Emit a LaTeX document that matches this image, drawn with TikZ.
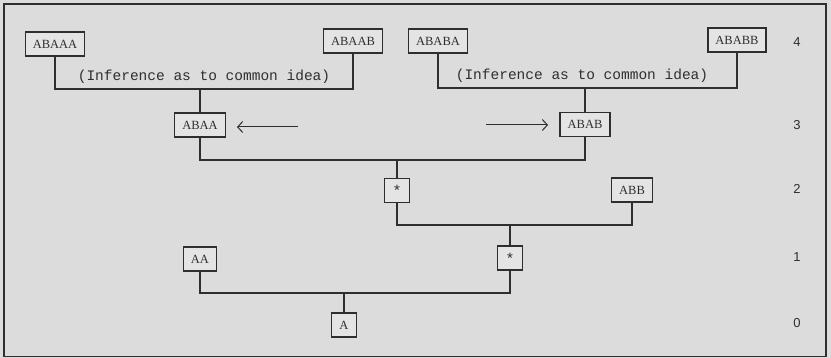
\documentclass[tikz,border=0pt]{standalone}
\usepackage{fontspec}
\setmainfont{Liberation Serif}
\newfontfamily\monof{Liberation Mono}
\newfontfamily\numf{Liberation Sans}
\usetikzlibrary{arrows.meta}
\definecolor{paper}{HTML}{DCDCDC}
\definecolor{ink}{HTML}{2E2E2E}
\definecolor{boxfill}{HTML}{E4E4E4}
\tikzset{
  lbox/.style={draw=ink, fill=boxfill, line width=1.4pt, inner xsep=7.5pt, inner ysep=0pt,
    minimum height=24pt, minimum width=25pt, text=ink, font=\fontsize{12.5}{12.5}\selectfont},
  link/.style={draw=ink, line width=1.3pt},
  note/.style={text=ink, font=\monof\fontsize{14.5}{14.5}\selectfont, inner sep=0pt},
  lvl/.style={text=ink, font=\numf\fontsize{13}{13}\selectfont, inner sep=0pt},
  pointer/.style={draw=ink, line width=1pt, -{Straight Barb[length=5pt,width=11pt]}},
}
\newcommand{\starmark}{\raisebox{-2.5pt}{\numf\fontsize{15}{15}\selectfont *}}
\begin{document}
\begin{tikzpicture}[x=1pt,y=-1pt]
\useasboundingbox (0,0) rectangle (831,358);
\fill[paper] (0,0) rectangle (831,358);
\draw[ink, line width=1.5pt] (4,4) rectangle (826,356.5);

\node[lbox] (ABAAA) at (55,44) {ABAAA};
\node[lbox] (ABAAB) at (353,41) {ABAAB};
\node[lbox] (ABABA) at (438,41) {ABABA};
\node[lbox] (ABABB) at (737,40) {ABABB};
\node[lbox] (ABAA) at (200,125) {ABAA};
\node[lbox] (ABAB) at (585,124.5) {ABAB};
\node[lbox] (st1) at (397,190.5) {\starmark};
\node[lbox] (ABB) at (632,190) {ABB};
\node[lbox] (st2) at (510,258) {\starmark};
\node[lbox] (AA) at (200,259) {AA};
\node[lbox] (A) at (344,325) {A};

\coordinate (h1) at (0,89);
\coordinate (h2) at (0,88);
\coordinate (h3) at (0,160);
\coordinate (h4) at (0,225);
\coordinate (h5) at (0,293);

\draw[link] (ABAAA.south) -- (ABAAA.south |- h1) -- (ABAAB.south |- h1) -- (ABAAB.south);
\draw[link] (ABAA.north) -- (ABAA.north |- h1);
\draw[link] (ABABA.south) -- (ABABA.south |- h2) -- (ABABB.south |- h2) -- (ABABB.south);
\draw[link] (ABAB.north) -- (ABAB.north |- h2);
\draw[link] (ABAA.south) -- (ABAA.south |- h3) -- (ABAB.south |- h3) -- (ABAB.south);
\draw[link] (st1.north) -- (st1.north |- h3);
\draw[link] (st1.south) -- (st1.south |- h4) -- (ABB.south |- h4) -- (ABB.south);
\draw[link] (st2.north) -- (st2.north |- h4);
\draw[link] (AA.south) -- (AA.south |- h5) -- (st2.south |- h5) -- (st2.south);
\draw[link] (A.north) -- (A.north |- h5);

\node[note] (inf1) at (204,77) {(Inference as to common idea)};
\node[note] (inf2) at (582,76) {(Inference as to common idea)};

\coordinate (a1s) at (298,127);
\coordinate (a1e) at (237,127);
\coordinate (a2s) at (486,125);
\coordinate (a2e) at (548,125);
\draw[pointer] (a1s) -- (a1e);
\draw[pointer] (a2s) -- (a2e);

\node[lvl] (L4) at (797,42) {4};
\node[lvl] (L3) at (797,125) {3};
\node[lvl] (L2) at (797,189) {2};
\node[lvl] (L1) at (797,257) {1};
\node[lvl] (L0) at (797,323) {0};
\end{tikzpicture}
\end{document}
